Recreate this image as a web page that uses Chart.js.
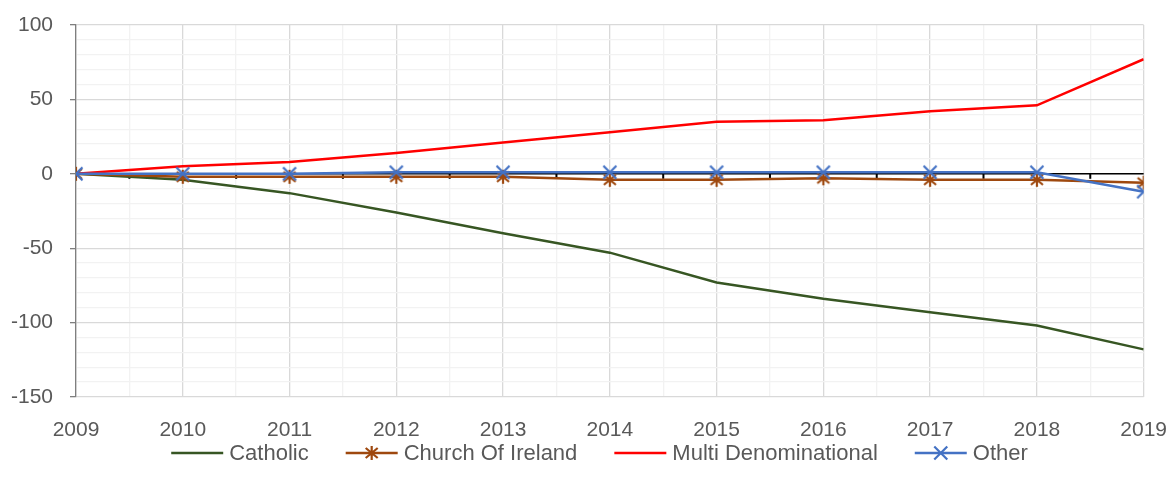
<!DOCTYPE html>
<html>
<head>
<meta charset="utf-8">
<script src="https://cdn.jsdelivr.net/npm/chart.js@4/dist/chart.umd.min.js"></script>
<style>
  body { margin: 0; background: #fff; }
  canvas { display: block; }
</style>
</head>
<body>
<canvas id="chart" width="1169" height="490"></canvas>
<script>
const years = [2009, 2010, 2011, 2012, 2013, 2014, 2015, 2016, 2017, 2018, 2019];
const catholic = [0, -4, -13, -26, -40, -53, -73, -84, -93, -102, -118];
const churchOfIreland = [0, -2, -2, -2, -2, -4, -4, -3, -4, -4, -6];
const multiDenominational = [0, 5, 8, 14, 21, 28, 35, 36, 42, 46, 77];
const other = [0, 0, 0, 1, 1, 1, 1, 1, 1, 1, -12];
const yTicks = [-150, -100, -50, 0, 50, 100];

const FONT = "'Liberation Sans', Arial, sans-serif";
const TEXT = "#595959";

function pts(vals) {
    return years.map((yr, i) => ({ x: yr, y: vals[i] }));
}

// excel style markers: asterisk (6 arms) and x
function drawMarker(ctx, type, cx, cy) {
    ctx.beginPath();
    if (type === "star") {
        ctx.moveTo(cx, cy - 7); ctx.lineTo(cx, cy + 7);
        ctx.moveTo(cx - 6, cy - 5); ctx.lineTo(cx + 6, cy + 5);
        ctx.moveTo(cx - 6, cy + 5); ctx.lineTo(cx + 6, cy - 5);
    } else {
        ctx.moveTo(cx - 6.5, cy - 6.5); ctx.lineTo(cx + 6.5, cy + 6.5);
        ctx.moveTo(cx - 6.5, cy + 6.5); ctx.lineTo(cx + 6.5, cy - 6.5);
    }
    ctx.stroke();
}

function markerImage(type, color) {
    const c = document.createElement("canvas");
    c.width = 20; c.height = 20;
    const g = c.getContext("2d");
    g.strokeStyle = color;
    g.lineWidth = 2.2;
    drawMarker(g, type, 10, 10);
    return c;
}

const series = [
    { label: "Catholic", data: catholic, color: "#375623", marker: null },
    { label: "Church Of Ireland", data: churchOfIreland, color: "#9E480E", marker: "star" },
    { label: "Multi Denominational", data: multiDenominational, color: "#FF0000", marker: null },
    { label: "Other", data: other, color: "#4472C4", marker: "cross" }
];

// black zero axis with tick marks between the years
const zeroAxis = {
    id: "zeroAxis",
    beforeDatasetsDraw(chart) {
        const ctx = chart.ctx;
        const x = chart.scales.x, y = chart.scales.y;
        const y0 = y.getPixelForValue(0);
        ctx.save();
        ctx.strokeStyle = "#000";
        ctx.lineWidth = 1.5;
        ctx.beginPath();
        ctx.moveTo(x.getPixelForValue(years[0]), y0);
        ctx.lineTo(x.getPixelForValue(years[years.length - 1]), y0);
        ctx.stroke();
        ctx.lineWidth = 2;
        years.slice(0, -1).forEach(yr => {
            const px = x.getPixelForValue(yr + 0.5);
            ctx.beginPath();
            ctx.moveTo(px, y0);
            ctx.lineTo(px, y0 + 5);
            ctx.stroke();
        });
        ctx.restore();
    }
};

const bottomLegend = {
    id: "bottomLegend",
    afterDraw(chart) {
        const ctx = chart.ctx;
        ctx.save();
        ctx.font = "22px " + FONT;
        ctx.textBaseline = "middle";
        const lineLen = 52, gapText = 6, gapItem = 37;
        const widths = series.map(s => lineLen + gapText + ctx.measureText(s.label).width);
        const total = widths.reduce((a, b) => a + b, 0) + gapItem * (series.length - 1);
        let x = chart.width / 2 + 15 - total / 2;
        const y = 453;
        series.forEach((s, i) => {
            ctx.strokeStyle = s.color;
            ctx.lineWidth = 2.5;
            ctx.beginPath();
            ctx.moveTo(x, y);
            ctx.lineTo(x + lineLen, y);
            ctx.stroke();
            if (s.marker) {
                ctx.lineWidth = 2.2;
                drawMarker(ctx, s.marker, x + lineLen / 2, y);
            }
            ctx.fillStyle = TEXT;
            ctx.fillText(s.label, x + lineLen + gapText, y + 1);
            x += widths[i] + gapItem;
        });
        ctx.restore();
    }
};

new Chart(document.getElementById("chart"), {
    type: "line",
    data: {
        datasets: series.map((s, i) => ({
            label: s.label,
            data: pts(s.data),
            borderColor: s.color,
            backgroundColor: s.color,
            borderWidth: 2.5,
            pointStyle: s.marker ? markerImage(s.marker, s.color) : "circle",
            pointRadius: s.marker ? 10 : 0,
            tension: 0,
            fill: false,
            order: series.length - i
        }))
    },
    options: {
        responsive: false,
        animation: false,
        devicePixelRatio: 1,
        layout: { padding: { left: 0, right: 0, top: 25, bottom: 0 } },
        plugins: {
            legend: { display: false },
            tooltip: { enabled: false }
        },
        scales: {
            x: {
                type: "linear",
                min: years[0],
                max: years[years.length - 1],
                ticks: {
                    stepSize: 0.5,
                    autoSkip: false,
                    maxRotation: 0,
                    padding: 2,
                    color: TEXT,
                    font: { family: FONT, size: 21 },
                    callback: v => Number.isInteger(v) ? String(v) : ""
                },
                grid: {
                    drawTicks: true,
                    tickLength: 19,
                    tickColor: "rgba(0,0,0,0)",
                    lineWidth: 1.3,
                    color: c => Number.isInteger(c.tick.value) ? "#d9d9d9" : "#f2f2f2"
                },
                border: { display: false },
                afterFit: s => { s.height = 93; }
            },
            y: {
                min: yTicks[0],
                max: yTicks[yTicks.length - 1],
                ticks: {
                    stepSize: 10,
                    autoSkip: false,
                    padding: 17,
                    color: TEXT,
                    font: { family: FONT, size: 21 },
                    callback: v => yTicks.includes(v) ? String(v) : ""
                },
                grid: {
                    lineWidth: 1.3,
                    tickLength: 6,
                    color: c => yTicks.includes(c.tick.value) ? "#d9d9d9" : "#f2f2f2",
                    tickColor: c => yTicks.includes(c.tick.value) ? "#7f7f7f" : "rgba(0,0,0,0)"
                },
                border: { color: "#7f7f7f", width: 1.3 },
                afterFit: s => { s.width = 76; s.paddingTop = 12; s.paddingBottom = 12; }
            }
        }
    },
    plugins: [zeroAxis, bottomLegend]
});
</script>
</body>
</html>
